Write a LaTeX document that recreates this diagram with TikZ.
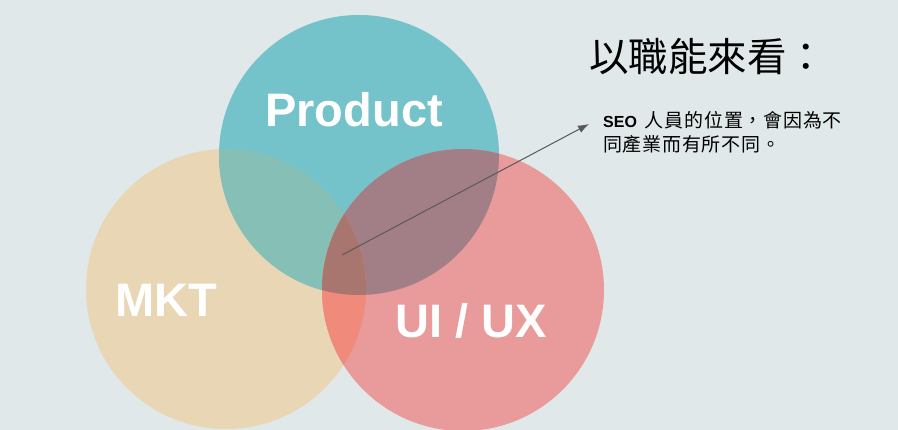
\documentclass[tikz,border=0pt]{standalone}
\usepackage{fontspec}
\setmainfont{Liberation Sans}
\newfontfamily\cjk{Noto Sans CJK TC}
\newfontfamily\cjkbody[LetterSpace=4]{Noto Sans CJK TC}
\usetikzlibrary{arrows.meta}
\definecolor{bg}{HTML}{E0E8E9}
\definecolor{cA}{HTML}{E9D6B5}
\definecolor{cB}{HTML}{74C3CA}
\definecolor{cC}{HTML}{E99A9A}
\definecolor{cAB}{HTML}{85BFB6}
\definecolor{cBC}{HTML}{A27F86}
\definecolor{cAC}{HTML}{F08B7B}
\definecolor{cABC}{HTML}{A9766F}
\definecolor{arrowc}{HTML}{595959}
\tikzset{
  biglabel/.style={text=white, font=\fontsize{47}{47}\selectfont\bfseries, anchor=base, inner sep=0pt},
  pointer/.style={draw=arrowc, line width=1pt, -{Latex[length=11pt,width=8pt]}},
}
\begin{document}
\begin{tikzpicture}[x=1pt,y=-1pt]
\fill[bg] (0,0) rectangle (898,430);
\useasboundingbox (0,0) rectangle (898,430);
\coordinate (A) at (226,289);
\coordinate (B) at (359,155);
\coordinate (C) at (463,290);
\def\rA{140pt}\def\rB{140pt}\def\rC{141pt}
\fill[cA] (A) circle (\rA);
\fill[cB] (B) circle (\rB);
\fill[cC] (C) circle (\rC);
\begin{scope}\clip (A) circle (\rA); \fill[cAB] (B) circle (\rB);\end{scope}
\begin{scope}\clip (B) circle (\rB); \fill[cBC] (C) circle (\rC);\end{scope}
\begin{scope}\clip (A) circle (\rA); \fill[cAC] (C) circle (\rC);\end{scope}
\begin{scope}\clip (A) circle (\rA); \clip (B) circle (\rB); \fill[cABC] (C) circle (\rC);\end{scope}
\node[biglabel] (product) at (354,127) {Product};
\node[biglabel] (mkt) at (166,317) {MKT};
\node[biglabel] (uiux) at (471,338) {UI / UX};
\node[anchor=base west, inner sep=0pt, font=\cjk\fontsize{39.5}{39.5}\selectfont] (title) at (589,72) {以職能來看：};
\node[anchor=base west, inner sep=0pt, align=left, font=\fontsize{19}{24}\selectfont] (body) at (603,152) {%
  {\fontsize{16}{16}\selectfont\bfseries SEO}\hspace{8pt}{\cjkbody 人員的位置，會因為不}\\
  {\cjkbody 同產業而有所不同。}};
\coordinate (start) at (342,255);
\coordinate (tip) at (589,124);
\draw[pointer] (start) -- (tip);
\end{tikzpicture}
\end{document}
